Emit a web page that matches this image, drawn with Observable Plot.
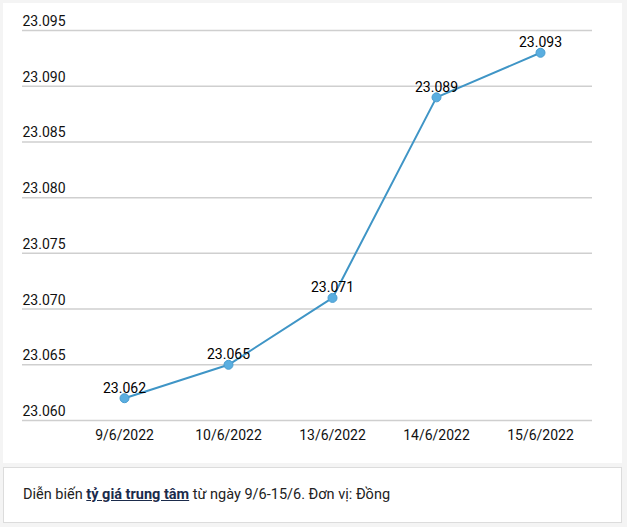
<!DOCTYPE html>
<html>
<head>
<meta charset="utf-8">
<script src="https://cdn.jsdelivr.net/npm/d3@7"></script>
<script src="https://cdn.jsdelivr.net/npm/@observablehq/plot@0.6"></script>
<style>
  html, body { margin: 0; padding: 0; background: #f4f4f4; width: 627px; height: 527px; overflow: hidden; }
  #panel { position: absolute; left: 3px; top: 3px; width: 619px; height: 460px; background: #fff; }
  #caption { position: absolute; left: 3px; top: 467px; width: 617px; height: 54px; background: #fff; border: 1px solid #dcdcdc;
    font-family: Roboto, sans-serif; font-size: 14.5px; color: #222; box-sizing: content-box; }
  #caption span.t { position: absolute; left: 19px; top: 18px; white-space: nowrap; }
  #caption a { color: #1b2b4b; font-weight: bold; text-decoration: underline; }
</style>
</head>
<body>
<div id="panel"></div>
<div id="caption"><span class="t">Diễn biến <a>tỷ giá trung tâm</a> từ ngày 9/6-15/6. Đơn vị: Đồng</span></div>
<script>
const dates = ["9/6/2022", "10/6/2022", "13/6/2022", "14/6/2022", "15/6/2022"];
const rates = [23.062, 23.065, 23.071, 23.089, 23.093];
const yTicks = [23.060, 23.065, 23.070, 23.075, 23.080, 23.085, 23.090, 23.095];

const data = dates.map((d, i) => ({date: d, rate: rates[i]}));
const fmt = v => v.toFixed(3);

const chart = Plot.plot({
  width: 619,
  height: 460,
  marginTop: 27,
  marginBottom: 43,
  marginLeft: 19,
  marginRight: 30,
  style: {fontFamily: "Roboto, sans-serif", fontSize: "14px", color: "#111", background: "#fff"},
  x: {type: "point", domain: dates, padding: 0.5, insetLeft: 49, label: null},
  y: {domain: [23.060, 23.095], label: null, axis: null},
  marks: [
    Plot.ruleY(yTicks, {stroke: "#cfcfcf", strokeWidth: 1.5}),
    Plot.text(yTicks, {y: d => d, text: fmt, frameAnchor: "left", textAnchor: "start", dy: -9, fill: "#111", fontSize: 14}),
    Plot.axisX({tickSize: 0, tickPadding: 10, fontSize: 14, fill: "#111"}),
    Plot.line(data, {x: "date", y: "rate", stroke: "#3f95c6", strokeWidth: 2}),
    Plot.dot(data, {x: "date", y: "rate", r: 4.5, fill: "#5aaee0", stroke: "#4a9dd0", strokeWidth: 1}),
    Plot.text(data, {x: "date", y: "rate", text: d => fmt(d.rate), dy: -10, fill: "#000", fontSize: 14})
  ]
});
document.getElementById("panel").appendChild(chart);
</script>
</body>
</html>
